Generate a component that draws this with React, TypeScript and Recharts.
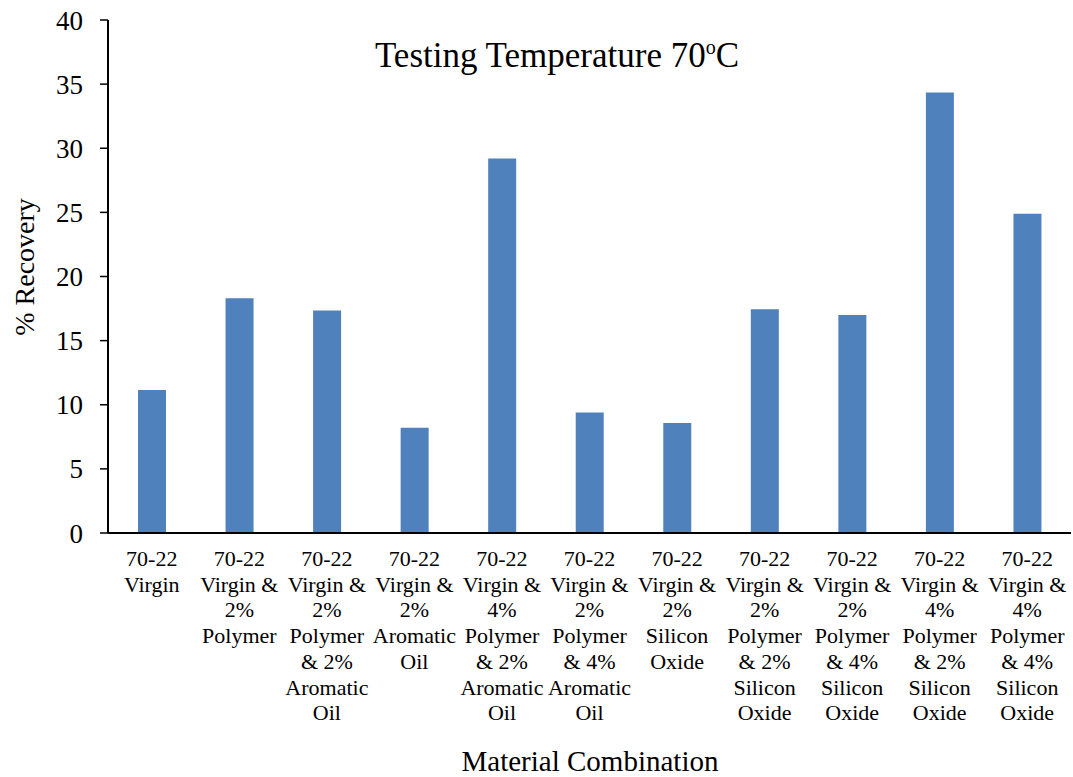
import { BarChart, Bar, XAxis, YAxis, Customized } from "recharts";

const FONT = "Liberation Serif, Times New Roman, serif";

const categories = [
  "70-22\nVirgin",
  "70-22\nVirgin &\n2%\nPolymer",
  "70-22\nVirgin &\n2%\nPolymer\n& 2%\nAromatic\nOil",
  "70-22\nVirgin &\n2%\nAromatic\nOil",
  "70-22\nVirgin &\n4%\nPolymer\n& 2%\nAromatic\nOil",
  "70-22\nVirgin &\n2%\nPolymer\n& 4%\nAromatic\nOil",
  "70-22\nVirgin &\n2%\nSilicon\nOxide",
  "70-22\nVirgin &\n2%\nPolymer\n& 2%\nSilicon\nOxide",
  "70-22\nVirgin &\n2%\nPolymer\n& 4%\nSilicon\nOxide",
  "70-22\nVirgin &\n4%\nPolymer\n& 2%\nSilicon\nOxide",
  "70-22\nVirgin &\n4%\nPolymer\n& 4%\nSilicon\nOxide",
];
const recovery = [11.15, 18.3, 17.35, 8.2, 29.2, 9.4, 8.57, 17.45, 17.0, 34.35, 24.9];
const yTicks = [0, 5, 10, 15, 20, 25, 30, 35, 40];

const data = categories.map((c, i) => ({ name: c, value: recovery[i] }));

function MultiLineTick(props: any) {
  const { x, y, payload } = props;
  const lines = String(payload.value).split("\n");
  return (
    <text x={x} y={y} textAnchor="middle" style={{ fontFamily: FONT, fontSize: 22 }} fill="#000">
      {lines.map((l, i) => (
        <tspan key={i} x={x} dy={i === 0 ? 25 : 25.7}>{l}</tspan>
      ))}
    </text>
  );
}

function Titles() {
  return (
    <g style={{ fontFamily: FONT }} fill="#000">
      <text x={557} y={67} textAnchor="middle" style={{ fontSize: 35 }}>
        Testing Temperature 70<tspan style={{ fontSize: 20 }} dy={-13}>o</tspan><tspan dy={13}>C</tspan>
      </text>
      <text x={590} y={771} textAnchor="middle" style={{ fontSize: 29 }}>Material Combination</text>
      <text x={34} y={267} textAnchor="middle" style={{ fontSize: 28 }} transform="rotate(-90 34 267)">% Recovery</text>
    </g>
  );
}

export default function App() {
  return (
    <div style={{ position: "absolute", left: 0, top: 0, background: "#fff", fontFamily: FONT }}>
      <BarChart width={1073} height={777} data={data} margin={{ top: 20, right: 2, bottom: 44, left: 48 }} barSize={28}>
        <XAxis dataKey="name" interval={0} tickLine={false} height={200} axisLine={{ stroke: "#000", strokeWidth: 2 }} tick={<MultiLineTick />} />
        <XAxis xAxisId="top" orientation="top" dataKey="name" height={0} tick={false} tickLine={false} axisLine={{ stroke: "#000", strokeWidth: 2 }} />
        <YAxis
          domain={[0, 40]}
          ticks={yTicks}
          width={60}
          tickSize={8}
          tickMargin={17}
          interval={0}
          axisLine={{ stroke: "#000", strokeWidth: 2 }}
          tickLine={{ stroke: "#000", strokeWidth: 1.5 }}
          tick={{ fontFamily: FONT, fontSize: 27, fill: "#000" }}
        />
        <YAxis yAxisId="right" orientation="right" width={0} tick={false} tickLine={false} axisLine={{ stroke: "#000", strokeWidth: 2 }} />
        <Bar dataKey="value" fill="#4F81BD" isAnimationActive={false} />
        <Customized component={<Titles />} />
      </BarChart>
    </div>
  );
}
